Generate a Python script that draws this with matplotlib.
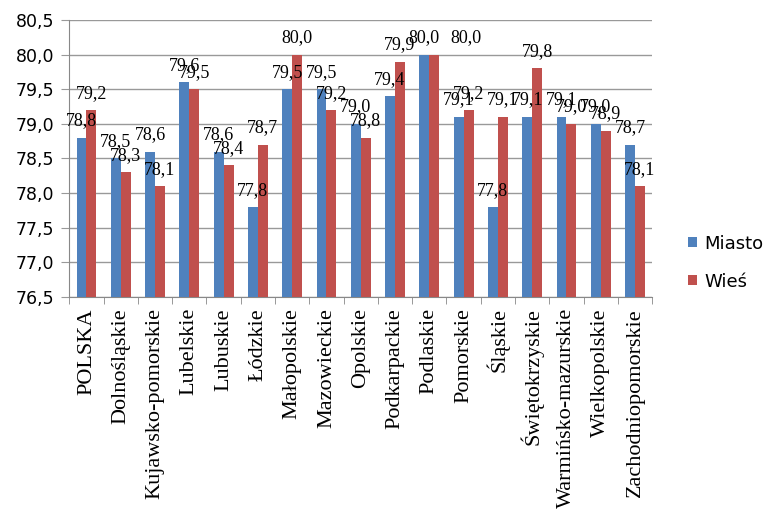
import matplotlib; matplotlib.use("Agg")
import matplotlib.pyplot as plt
import numpy as np

regions = ["POLSKA", "Dolnośląskie", "Kujawsko-pomorskie", "Lubelskie", "Lubuskie",
           "Łódzkie", "Małopolskie", "Mazowieckie", "Opolskie", "Podkarpackie",
           "Podlaskie", "Pomorskie", "Śląskie", "Świętokrzyskie",
           "Warmińsko-mazurskie", "Wielkopolskie", "Zachodniopomorskie"]
miasto = [78.8, 78.5, 78.6, 79.6, 78.6, 77.8, 79.5, 79.5, 79.0, 79.4,
          80.0, 79.1, 77.8, 79.1, 79.1, 79.0, 78.7]
wies = [79.2, 78.3, 78.1, 79.5, 78.4, 78.7, 80.0, 79.2, 78.8, 79.9,
        80.0, 79.2, 79.1, 79.8, 79.0, 78.9, 78.1]
yticks = [76.5, 77.0, 77.5, 78.0, 78.5, 79.0, 79.5, 80.0, 80.5]

BLUE, RED = "#4F81BD", "#C0504D"
fmt = lambda v: f"{v:.1f}".replace(".", ",")
# Excel nudged this one label sideways to avoid a clash (points)
nudge = {("Wieś", "Podlaskie"): 23}

fig = plt.figure(figsize=(7.7, 5.12), dpi=100)
ax = fig.add_axes([0.09, 0.42, 0.757, 0.541])
x = np.arange(len(regions))
w = 0.29
b1 = ax.bar(x - w/2, [v - 76.5 for v in miasto], w, bottom=76.5, color=BLUE, label="Miasto", zorder=3)
b2 = ax.bar(x + w/2, [v - 76.5 for v in wies], w, bottom=76.5, color=RED, label="Wieś", zorder=3)
for name, xs, vals in [("Miasto", x - w/2, miasto), ("Wieś", x + w/2, wies)]:
    for reg, xi, v in zip(regions, xs, vals):
        dx = nudge.get((name, reg), 0)
        ax.annotate(fmt(v), (xi, v), textcoords="offset points", xytext=(dx, 6),
                    ha="center", va="bottom", fontsize=13, family="Liberation Serif", zorder=4)

ax.set_ylim(76.5, 80.5)
ax.set_xlim(-0.5, len(regions) - 0.5)
ax.set_yticks(yticks)
ax.set_yticklabels([fmt(v) for v in yticks], fontsize=12.5, family="DejaVu Sans")
ax.set_xticks(x)
ax.set_xticklabels(regions, rotation=90, fontsize=16, family="Liberation Serif")
ax.set_xticks(np.arange(len(regions) + 1) - 0.5, minor=True)
ax.tick_params(axis="x", which="major", length=0, pad=8)
ax.tick_params(axis="x", which="minor", length=5, color="#888888")
ax.tick_params(axis="y", length=6, color="#999999", pad=5)
ax.grid(axis="y", color="#999999", lw=1, zorder=0)
for s in ["top", "right"]:
    ax.spines[s].set_visible(False)
for s in ["left", "bottom"]:
    ax.spines[s].set_color("#888888")

fig.legend(handles=[b1, b2], loc="center left", bbox_to_anchor=(0.894, 0.487),
           frameon=False, prop={"family": "DejaVu Sans", "size": 13},
           handlelength=0.5, handleheight=0.5, labelspacing=1.1, handletextpad=0.4,
           borderpad=0, borderaxespad=0)

plt.savefig("out.png", dpi=100)
